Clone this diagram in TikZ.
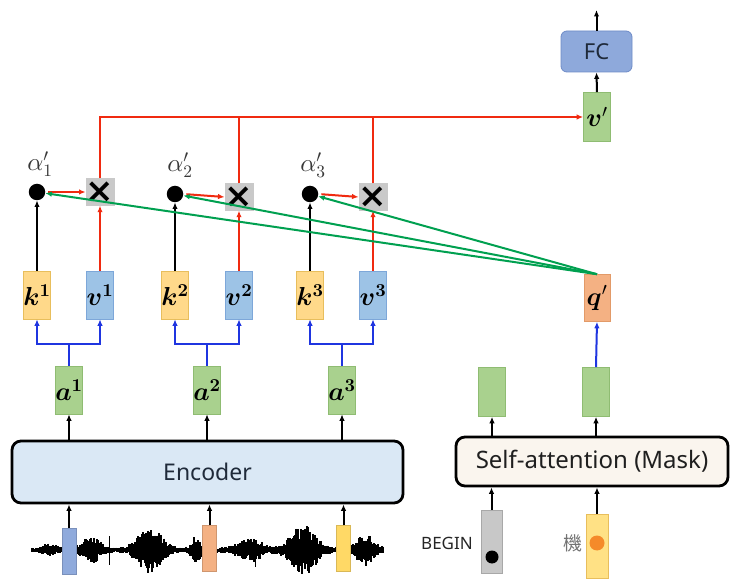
\documentclass[tikz,border=0pt]{standalone}
\usepackage{fontspec}
\usepackage{amsmath,bm}
\DeclareFontShape{OML}{cmm}{m}{it}{<->cmmi10}{}
\DeclareFontShape{OML}{cmm}{b}{it}{<->cmmib10}{}
\DeclareFontShape{OMS}{cmsy}{m}{n}{<->cmsy10}{}
\DeclareFontShape{OMS}{cmsy}{b}{n}{<->cmbsy10}{}
\DeclareFontShape{OT1}{cmr}{m}{n}{<->cmr10}{}
\DeclareFontShape{OT1}{cmr}{bx}{n}{<->cmbx10}{}
\usetikzlibrary{arrows.meta,calc}
\newfontfamily\sansx{Noto Sans}
\newfontfamily\cjkx{Noto Sans CJK TC}
\newfontfamily\dejab{DejaVu Sans Bold}
\definecolor{kfill}{HTML}{FFD98A}\definecolor{kdraw}{HTML}{E8BE5C}
\definecolor{vfill}{HTML}{9DC3E6}\definecolor{vdraw}{HTML}{7DA7D9}
\definecolor{gfill}{HTML}{A9D18E}\definecolor{gdraw}{HTML}{8FBC72}
\definecolor{qfill}{HTML}{F4B183}\definecolor{qdraw}{HTML}{E29A68}
\definecolor{fcfill}{HTML}{8EA9DB}\definecolor{fcdraw}{HTML}{6E8BC7}
\definecolor{mulgray}{HTML}{C9C9C9}
\definecolor{begfill}{HTML}{C8C8C8}\definecolor{begdraw}{HTML}{A8A8A8}
\definecolor{wblue}{HTML}{8FAADC}\definecolor{worange}{HTML}{F4B183}\definecolor{wyellow}{HTML}{FFD966}
\definecolor{encfill}{HTML}{DAE8F5}\definecolor{safill}{HTML}{FAF5EE}
\definecolor{redc}{HTML}{F02A10}\definecolor{greenc}{HTML}{00A050}\definecolor{bluec}{HTML}{1F35E0}
\definecolor{navy}{HTML}{1F2A3A}\definecolor{dotorange}{HTML}{F58A2A}
\begin{document}
\begin{tikzpicture}[x=1pt,y=-1pt,
  box/.style={draw, line width=0.6pt, minimum width=26pt, minimum height=48pt, inner sep=0pt, font=\fontsize{26}{28}\selectfont},
  kbox/.style={box, fill=kfill, draw=kdraw},
  vbox/.style={box, fill=vfill, draw=vdraw},
  gbox/.style={box, fill=gfill, draw=gdraw},
  qbox/.style={box, fill=qfill, draw=qdraw},
  dotnode/.style={circle, fill=black, minimum size=16.5pt, inner sep=0pt},
  mul/.style={draw=mulgray, fill=mulgray, minimum size=27pt, inner sep=0pt, font=\dejab\fontsize{34}{34}\selectfont},
  alab/.style={text=black!78, font=\fontsize{25}{27}\selectfont, inner sep=0pt},
  arr/.style={line width=2pt, -{Latex[length=6.5pt,width=5.5pt]}},
  blk/.style={arr, black},
  reda/.style={arr, redc},
  redl/.style={line width=2pt, redc},
  grna/.style={arr, greenc},
  blua/.style={arr, bluec},
  bigbox/.style={draw=black, line width=2.8pt, rounded corners=9pt, inner sep=0pt},
  wbox/.style={minimum width=14pt, minimum height=46pt, inner sep=0pt, draw=#1!85!black, line width=0.4pt, fill=#1}
]
\useasboundingbox (0,0) rectangle (740,588);

% ---------- waveform ----------
\pgfmathsetseed{11}
\draw[line width=1pt] (32,550) -- (383,550);
\foreach \i in {32,33,...,383}{
  \pgfmathsetmacro\env{2.5
    +5*exp(-min(((\i-50)/8)*((\i-50)/8),15))
    +11*exp(-min(((\i-91)/12)*((\i-91)/12),15))
    +22*exp(-min(((\i-150)/15)*((\i-150)/15),15))
    +12*exp(-min(((\i-196)/6)*((\i-196)/6),15))
    +10*exp(-min(((\i-250)/15)*((\i-250)/15),15))
    +24*exp(-min(((\i-303)/16)*((\i-303)/16),15))
    +14*exp(-min(((\i-365)/11)*((\i-365)/11),15))}
  \pgfmathsetmacro\up{\env*(0.4+0.6*rnd)}
  \pgfmathsetmacro\dn{\env*(0.4+0.6*rnd)}
  \draw[line width=1.1pt] (\i,550-\up) -- (\i,550+\dn);
}
\draw[line width=1pt] (109,536) -- (109,565);
\draw[line width=1pt] (255,543) -- (255,567);
\node[wbox=wblue]   (w1) at (69,551) {};
\node[wbox=worange] (w2) at (209.5,548.5) {};
\node[wbox=wyellow] (w3) at (343.5,548.5) {};

% ---------- encoder ----------
\node[bigbox, fill=encfill, minimum width=391pt, minimum height=62pt,
      font=\sansx\fontsize{23}{25}\selectfont, text=navy] (enc) at (207.5,472) {Encoder};

% ---------- a, k, v ----------
\node[gbox] (a1) at (69,390) {$\bm{a}^{\bm 1}$};
\node[gbox] (a2) at (207,390) {$\bm{a}^{\bm 2}$};
\node[gbox] (a3) at (342,390) {$\bm{a}^{\bm 3}$};
\node[kbox] (k1) at (37,295) {$\bm{k}^{\bm 1}$};
\node[vbox] (v1) at (100,295) {$\bm{v}^{\bm 1}$};
\node[kbox] (k2) at (175,295) {$\bm{k}^{\bm 2}$};
\node[vbox] (v2) at (239,295) {$\bm{v}^{\bm 2}$};
\node[kbox] (k3) at (310,295) {$\bm{k}^{\bm 3}$};
\node[vbox] (v3) at (373,295) {$\bm{v}^{\bm 3}$};

% ---------- dots and multipliers ----------
\node[dotnode] (d1) at (37,192) {};
\node[dotnode] (d2) at (175,194) {};
\node[dotnode] (d3) at (310,194) {};
\node[mul] (x1) at (100,192) {×};
\node[mul] (x2) at (239,197) {×};
\node[mul] (x3) at (373,197) {×};
\node[alab] (l1) at (40,164) {$\alpha'_1$};
\node[alab] (l2) at (180,165) {$\alpha'_2$};
\node[alab] (l3) at (313,165) {$\alpha'_3$};

% ---------- decoder side ----------
\node[bigbox, fill=safill, minimum width=272pt, minimum height=49pt,
      font=\sansx\fontsize{24}{26}\selectfont, text=black!88] (sa) at (592,461.5) {Self-attention (Mask)};
\node[gbox, minimum width=27pt, minimum height=49pt] (g1) at (492,392) {};
\node[gbox, minimum width=27pt, minimum height=49pt] (g2) at (596,392) {};
\node[qbox, minimum height=47pt] (qp) at (597,298) {$\bm{q}'$};
\node[gbox, minimum width=27pt, minimum height=49pt] (vp) at (597,117) {$\bm{v}'$};
\node[draw=fcdraw, fill=fcfill, line width=0.8pt, rounded corners=6pt, minimum width=71pt, minimum height=41pt,
      inner sep=0pt, font=\sansx\fontsize{22}{24}\selectfont, text=navy] (fc) at (596.5,51.5) {FC};
\coordinate (out) at (596.5,10);

\node[draw=begdraw, fill=begfill, line width=0.5pt, minimum width=21pt, minimum height=63pt, inner sep=0pt] (bg) at (491.5,541.5) {};
\node[circle, fill=black, minimum size=13pt, inner sep=0pt] (bgdot) at (492,557) {};
\node[font=\sansx\fontsize{17}{19}\selectfont, text=black!85, anchor=east, inner sep=0pt] (bgtxt) at (473,543) {BEGIN};
\node[draw=kdraw, fill=wyellow!80!white, line width=0.5pt, minimum width=22pt, minimum height=64pt, inner sep=0pt] (ji) at (597,546) {};
\node[circle, fill=dotorange, minimum size=15pt, inner sep=0pt] (jidot) at (597,543) {};
\node[font=\cjkx\fontsize{19}{21}\selectfont, text=black!55, anchor=east, inner sep=0pt] (jitxt) at (583,543) {機};

% ---------- connectors ----------
\foreach \a in {1,2,3}{
  \draw[blk] (w\a.north) -- (w\a.north |- enc.south);
  \draw[blk] (a\a.south |- enc.north) -- (a\a.south);
  \draw[blk] (k\a.north) -- (d\a.south);
  \draw[reda] (v\a.north) -- (x\a.south);
  \draw[reda, shorten <=3pt] (d\a.east) -- (x\a.west);
  \coordinate (f\a) at ($(a\a.north)+(0,-22)$);
  \draw[blua] (a\a.north) -- (f\a) -| (k\a.south);
  \draw[blua] (f\a) -| (v\a.south);
}
\draw[reda] (x1.north) |- (vp.west);
\draw[redl] (x2.north) -- (x2.north |- vp.west);
\draw[redl] (x3.north) -- (x3.north |- vp.west);
\draw[grna] (qp.north) -- (d1);
\draw[grna] (qp.north) -- (d2);
\draw[grna] (qp.north) -- (d3);
\draw[blk] (vp.north) -- (fc.south);
\draw[blk] (fc.north) -- (out);
\draw[blua] (g2.north) -- (qp.south);
\draw[blk] (sa.north -| g1.south) -- (g1.south);
\draw[blk] (sa.north -| g2.south) -- (g2.south);
\draw[blk] (bg.north) -- (bg.north |- sa.south);
\draw[blk] (ji.north) -- (ji.north |- sa.south);
\end{tikzpicture}
\end{document}
